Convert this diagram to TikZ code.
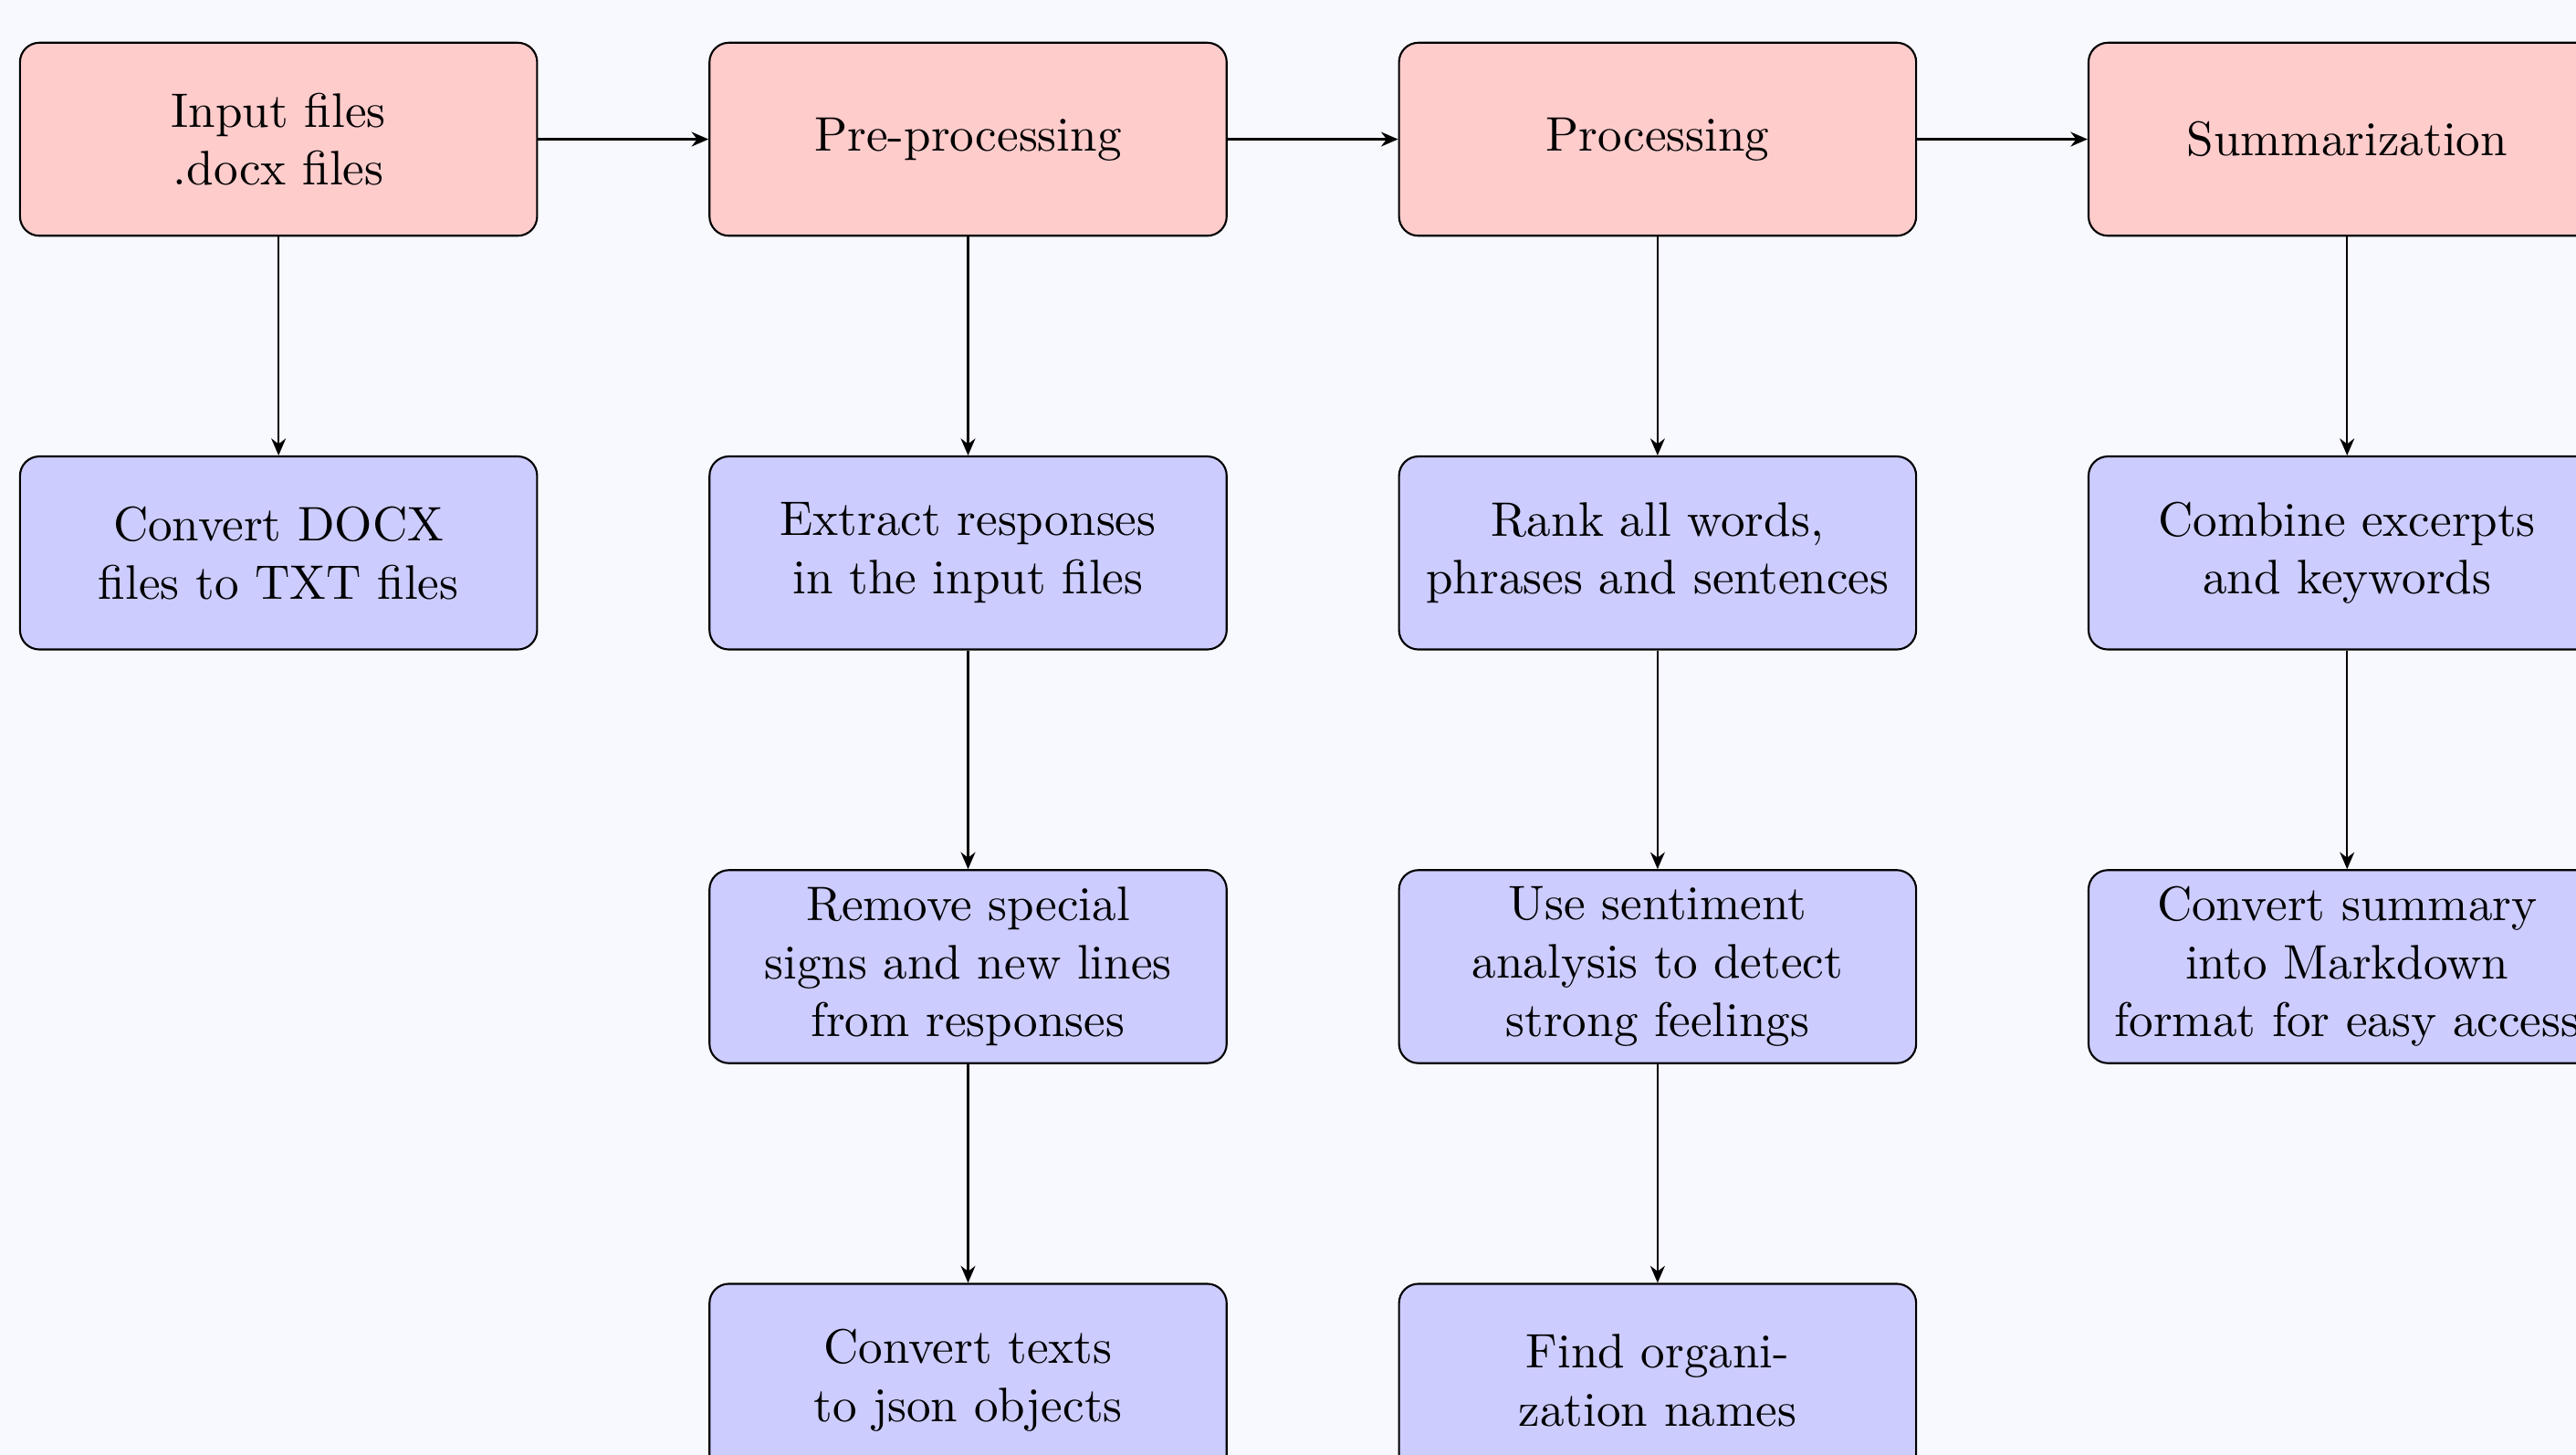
\documentclass[tikz,border=0pt]{standalone}
\usepackage{tikz}
\usetikzlibrary{arrows.meta, positioning}
\usepackage{xcolor}
\definecolor{pagebg}{RGB}{248,248,255}
\tikzset{%
	stage/.style={
		rectangle,
		rounded corners,
		draw,
		fill=red!20,
		text width=3.5cm,
		minimum width=3.75cm,
		minimum height=1.4cm,
		align=center
	},
	task/.style={
		stage,
		fill=blue!20
	},
	flow/.style={
		-{Stealth[length=3.5pt, width=3pt]}
	},
}

\begin{document}
\begin{tikzpicture}
	
	\fill[pagebg] (-2.02,1.01) rectangle (16.66,-9.54);
	\useasboundingbox (-2.02,1.01) rectangle (16.66,-9.54);
	
	\node[stage] (input) at (0,0) {Input files\\.docx files};
	\node[stage] (prep) at (5,0) {Pre-processing};
	\node[stage] (proc) at (10,0) {Processing};
	\node[stage] (summ) at (15,0) {Summarization};
	
	\node[task] (docx) at (0,-3) {Convert DOCX\\files to TXT files};
	
	\node[task] (extract) at (5,-3) {Extract responses\\in the input files};
	\node[task] (clean) at (5,-6) {Remove special\\signs and new lines\\from responses};
	\node[task] (json) at (5,-9) {Convert texts\\to json objects};
	
	\node[task] (rank) at (10,-3) {Rank all words,\\phrases and sentences};
	\node[task] (senti) at (10,-6) {Use sentiment\\analysis to detect\\strong feelings};
	\node[task] (orgs) at (10,-9) {Find organi-\\zation names};
	
	\node[task] (combine) at (15,-3) {Combine excerpts\\and keywords};
	\node[task] (markdown) at (15,-6) {Convert summary\\into Markdown\\format for easy access};
	
	\draw[flow] (input) -- (prep);
	\draw[flow] (prep) -- (proc);
	\draw[flow] (proc) -- (summ);
	
	\draw[flow] (input) -- (docx);
	\draw[flow] (prep) -- (extract);
	\draw[flow] (extract) -- (clean);
	\draw[flow] (clean) -- (json);
	\draw[flow] (proc) -- (rank);
	\draw[flow] (rank) -- (senti);
	\draw[flow] (senti) -- (orgs);
	\draw[flow] (summ) -- (combine);
	\draw[flow] (combine) -- (markdown);
	
\end{tikzpicture}
\end{document}
